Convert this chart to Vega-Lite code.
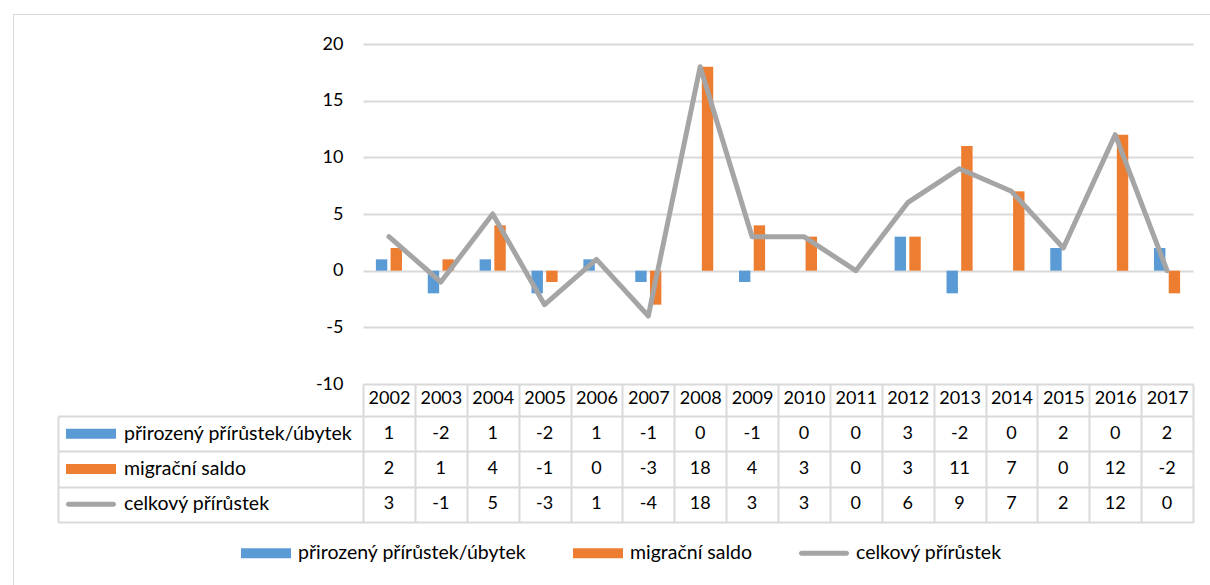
{
  "$schema": "https://vega.github.io/schema/vega-lite/v6.json",
  "padding": {"left": 12, "top": 13, "right": 0, "bottom": 0},
  "autosize": {"type": "pad"},
  "bounds": "flush",
  "spacing": 32,
  "config": {
    "view": {"stroke": null},
    "font": "Lato",
    "axis": {"labelFont": "Lato", "labelFontSize": 18, "labelColor": "#000000"},
    "legend": {"labelFont": "Lato", "labelFontSize": 19.5, "labelColor": "#000000", "labelLimit": 500}
  },
  "datasets": {
    "rows": [
      {"year": "2002", "series": "přirozený přírůstek/úbytek", "value": 1},
      {"year": "2003", "series": "přirozený přírůstek/úbytek", "value": -2},
      {"year": "2004", "series": "přirozený přírůstek/úbytek", "value": 1},
      {"year": "2005", "series": "přirozený přírůstek/úbytek", "value": -2},
      {"year": "2006", "series": "přirozený přírůstek/úbytek", "value": 1},
      {"year": "2007", "series": "přirozený přírůstek/úbytek", "value": -1},
      {"year": "2008", "series": "přirozený přírůstek/úbytek", "value": 0},
      {"year": "2009", "series": "přirozený přírůstek/úbytek", "value": -1},
      {"year": "2010", "series": "přirozený přírůstek/úbytek", "value": 0},
      {"year": "2011", "series": "přirozený přírůstek/úbytek", "value": 0},
      {"year": "2012", "series": "přirozený přírůstek/úbytek", "value": 3},
      {"year": "2013", "series": "přirozený přírůstek/úbytek", "value": -2},
      {"year": "2014", "series": "přirozený přírůstek/úbytek", "value": 0},
      {"year": "2015", "series": "přirozený přírůstek/úbytek", "value": 2},
      {"year": "2016", "series": "přirozený přírůstek/úbytek", "value": 0},
      {"year": "2017", "series": "přirozený přírůstek/úbytek", "value": 2},
      {"year": "2002", "series": "migrační saldo", "value": 2},
      {"year": "2003", "series": "migrační saldo", "value": 1},
      {"year": "2004", "series": "migrační saldo", "value": 4},
      {"year": "2005", "series": "migrační saldo", "value": -1},
      {"year": "2006", "series": "migrační saldo", "value": 0},
      {"year": "2007", "series": "migrační saldo", "value": -3},
      {"year": "2008", "series": "migrační saldo", "value": 18},
      {"year": "2009", "series": "migrační saldo", "value": 4},
      {"year": "2010", "series": "migrační saldo", "value": 3},
      {"year": "2011", "series": "migrační saldo", "value": 0},
      {"year": "2012", "series": "migrační saldo", "value": 3},
      {"year": "2013", "series": "migrační saldo", "value": 11},
      {"year": "2014", "series": "migrační saldo", "value": 7},
      {"year": "2015", "series": "migrační saldo", "value": 0},
      {"year": "2016", "series": "migrační saldo", "value": 12},
      {"year": "2017", "series": "migrační saldo", "value": -2},
      {"year": "2002", "series": "celkový přírůstek", "value": 3},
      {"year": "2003", "series": "celkový přírůstek", "value": -1},
      {"year": "2004", "series": "celkový přírůstek", "value": 5},
      {"year": "2005", "series": "celkový přírůstek", "value": -3},
      {"year": "2006", "series": "celkový přírůstek", "value": 1},
      {"year": "2007", "series": "celkový přírůstek", "value": -4},
      {"year": "2008", "series": "celkový přírůstek", "value": 18},
      {"year": "2009", "series": "celkový přírůstek", "value": 3},
      {"year": "2010", "series": "celkový přírůstek", "value": 3},
      {"year": "2011", "series": "celkový přírůstek", "value": 0},
      {"year": "2012", "series": "celkový přírůstek", "value": 6},
      {"year": "2013", "series": "celkový přírůstek", "value": 9},
      {"year": "2014", "series": "celkový přírůstek", "value": 7},
      {"year": "2015", "series": "celkový přírůstek", "value": 2},
      {"year": "2016", "series": "celkový přírůstek", "value": 12},
      {"year": "2017", "series": "celkový přírůstek", "value": 0}
    ]
  },
  "vconcat": [
    {
      "width": 830,
      "height": 340,
      "data": {"name": "rows"},
      "layer": [
        {
          "transform": [{"filter": "datum.series != 'celkový přírůstek'"}],
          "mark": {"type": "bar"},
          "encoding": {
            "x": {"field": "year", "type": "nominal", "scale": {"type": "band", "paddingInner": 0, "paddingOuter": 0}, "axis": null},
            "xOffset": {"field": "series", "type": "nominal", "scale": {"domain": ["přirozený přírůstek/úbytek", "migrační saldo"], "paddingInner": 0.224, "paddingOuter": 0.877}},
            "y": {
              "field": "value", "type": "quantitative",
              "scale": {"domain": [-10, 20], "nice": false},
              "axis": {"values": [-10, -5, 0, 5, 10, 15, 20], "grid": true, "gridColor": "#D9D9D9", "gridWidth": 2, "domain": false, "ticks": false, "labelPadding": 20, "title": null, "labelExpr": "'' + datum.value"}
            },
            "color": {
              "field": "series", "type": "nominal",
              "scale": {"domain": ["přirozený přírůstek/úbytek", "migrační saldo", "celkový přírůstek"], "range": ["#5B9BD5", "#ED7D31", "#A5A5A5"]},
              "legend": {"orient": "none", "legendX": -107, "legendY": 499, "direction": "horizontal", "title": null, "symbolSize": 400, "columnPadding": 46, "labelOffset": 22, "symbolStrokeWidth": 0}
            }
          }
        },
        {
          "transform": [{"filter": "datum.series == 'celkový přírůstek'"}],
          "mark": {"type": "line", "color": "#A5A5A5", "strokeWidth": 5, "strokeCap": "round", "strokeJoin": "round"},
          "encoding": {
            "x": {"field": "year", "type": "nominal", "bandPosition": 0.5},
            "y": {"field": "value", "type": "quantitative"}
          }
        },
        {
          "transform": [{"filter": "false"}],
          "mark": {"type": "point", "filled": true, "opacity": 1},
          "encoding": {
            "color": {
              "field": "series", "type": "nominal",
              "scale": {"domain": ["přirozený přírůstek/úbytek", "migrační saldo", "celkový přírůstek"], "range": ["#5B9BD5", "#ED7D31", "#A5A5A5"]},
              "legend": {"orient": "none", "legendX": -107, "legendY": 499, "direction": "horizontal", "title": null, "symbolSize": 400, "columnPadding": 46, "labelOffset": 22, "symbolStrokeWidth": 0}
            },
            "shape": {
              "field": "series", "type": "nominal",
              "scale": {"domain": ["přirozený přírůstek/úbytek", "migrační saldo", "celkový přírůstek"], "range": ["M-2.5,-0.5H2.5V0.5H-2.5Z", "M-2.5,-0.5H2.5V0.5H-2.5Z", "M-2.25,-0.25H2.25A0.25,0.25 0 0 1 2.25,0.25H-2.25A0.25,0.25 0 0 1 -2.25,-0.25Z"]},
              "legend": {"orient": "none", "legendX": -107, "legendY": 499, "direction": "horizontal", "title": null, "symbolSize": 400, "columnPadding": 46, "labelOffset": 22, "symbolStrokeWidth": 0}
            },
            "stroke": {
              "field": "value", "type": "quantitative",
              "scale": {"domain": [0, 1], "range": ["rgba(0,0,0,0)", "rgba(0,0,0,0)"]},
              "legend": {"orient": "none", "legendX": -350, "legendY": -30, "direction": "horizontal", "gradientLength": 1240, "gradientThickness": 600, "values": [], "labelExpr": "''", "labelFontSize": 0, "title": null, "padding": 0, "strokeColor": "#D9D9D9", "gradientStrokeWidth": 0}
            }
          }
        }
      ]
    },
    {
      "width": 830,
      "height": 106,
      "data": {"name": "rows"},
      "layer": [
        {
          "mark": {"type": "text", "fontSize": 18, "font": "Lato", "color": "#000000"},
          "encoding": {
            "x": {
              "field": "year", "type": "nominal",
              "scale": {"type": "band", "paddingInner": 0, "paddingOuter": 0},
              "axis": {"orient": "top", "tickBand": "extent", "tickSize": 32, "tickColor": "#D9D9D9", "tickWidth": 2, "grid": true, "gridColor": "#D9D9D9", "gridWidth": 2, "domain": false, "labelAngle": 0, "labelPadding": -23, "title": null}
            },
            "y": {
              "field": "series", "type": "nominal",
              "scale": {"type": "band", "domain": ["přirozený přírůstek/úbytek", "migrační saldo", "celkový přírůstek"], "paddingInner": 0, "paddingOuter": 0},
              "axis": {"orient": "left", "offset": 305, "tickBand": "extent", "tickSize": -1135, "tickColor": "#D9D9D9", "tickWidth": 2, "domain": true, "domainColor": "#D9D9D9", "domainWidth": 2, "labels": false, "grid": false, "title": null}
            },
            "text": {"field": "value", "type": "nominal"}
          }
        },
        {
          "transform": [{"filter": "false"}],
          "mark": {"type": "point", "filled": true, "opacity": 1},
          "encoding": {
            "fill": {
              "field": "series", "type": "nominal",
              "scale": {"domain": ["přirozený přírůstek/úbytek", "migrační saldo", "celkový přírůstek"], "range": ["#5B9BD5", "#ED7D31", "#A5A5A5"]},
              "legend": {"orient": "none", "legendX": -282, "legendY": 7.7, "direction": "vertical", "title": null, "symbolSize": 400, "rowPadding": 15.3, "labelOffset": 23, "symbolStrokeWidth": 0}
            },
            "shape": {
              "field": "series", "type": "nominal",
              "scale": {"domain": ["přirozený přírůstek/úbytek", "migrační saldo", "celkový přírůstek"], "range": ["M-2.5,-0.5H2.5V0.5H-2.5Z", "M-2.5,-0.5H2.5V0.5H-2.5Z", "M-2.25,-0.25H2.25A0.25,0.25 0 0 1 2.25,0.25H-2.25A0.25,0.25 0 0 1 -2.25,-0.25Z"]},
              "legend": {"orient": "none", "legendX": -282, "legendY": 7.7, "direction": "vertical", "title": null, "symbolSize": 400, "rowPadding": 15.3, "labelOffset": 23, "symbolStrokeWidth": 0}
            }
          }
        }
      ]
    }
  ],
  "resolve": {
    "scale": {"color": "independent", "shape": "independent", "fill": "independent", "stroke": "independent", "x": "independent", "y": "independent"},
    "legend": {"color": "independent", "shape": "independent", "fill": "independent", "stroke": "independent"}
  }
}
